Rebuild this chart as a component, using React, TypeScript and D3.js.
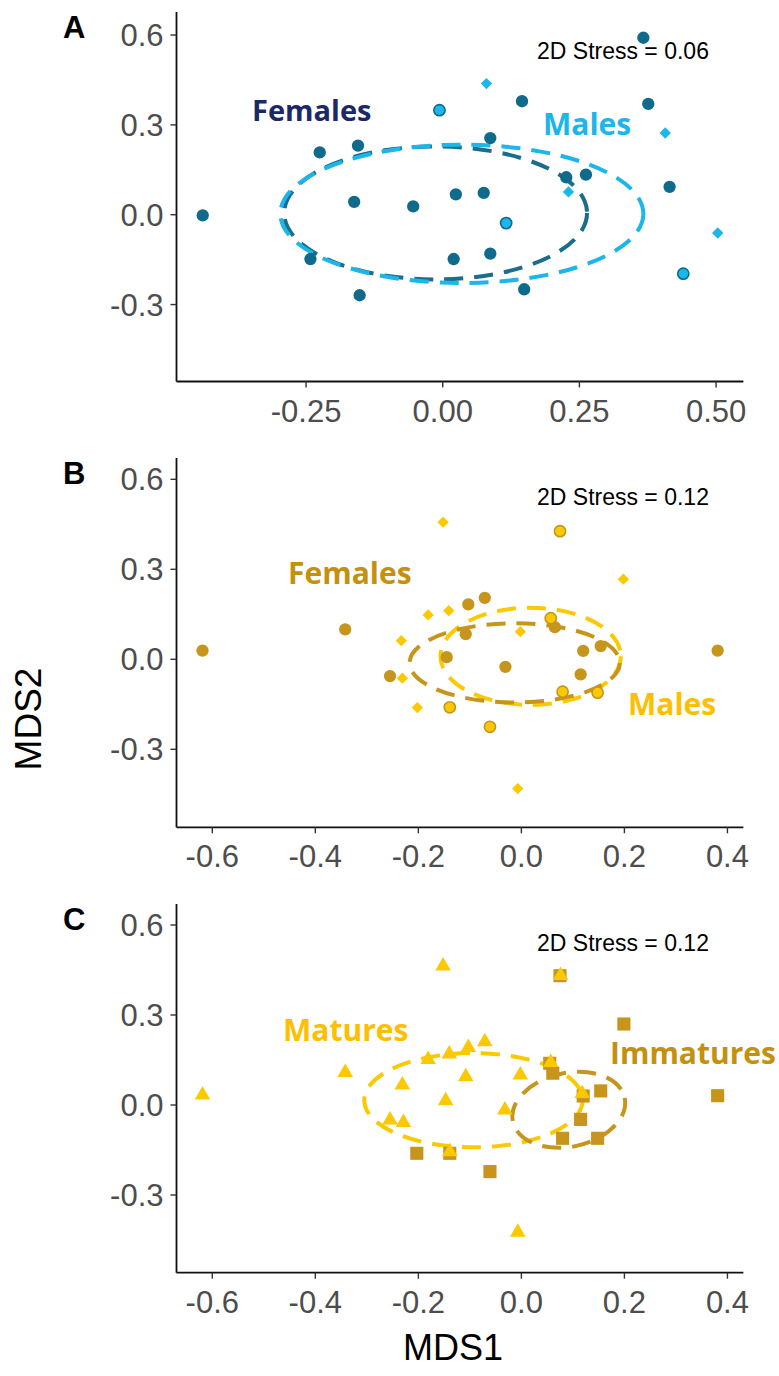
import React from 'react';
import * as d3 from 'd3';

type P = [number, number];

// ---------- Panel A data (MDS1, MDS2) ----------
const femalesA: P[] = [
  [-0.439, -0.002], [-0.225, 0.208], [-0.155, 0.231], [-0.162, 0.043], [-0.054, 0.028],
  [0.024, 0.068], [0.075, 0.073], [0.087, 0.256], [0.145, 0.379], [0.367, 0.591],
  [0.376, 0.370], [0.226, 0.125], [0.262, 0.134], [0.415, 0.093], [-0.242, -0.148],
  [0.020, -0.148], [0.087, -0.130], [-0.152, -0.269], [0.149, -0.249],
];
const malesA: P[] = [[0.080, 0.438], [0.407, 0.273], [0.230, 0.076], [0.503, -0.061]];
const malesOverlapA: P[] = [[-0.006, 0.349], [0.116, -0.028], [0.440, -0.197]];
// ellipse: [cx, cy, rx, ry, angleDeg]
const femaleEllipseA = [-0.013, 0.006, 0.277, 0.222, 0];
const maleEllipseA = [0.035, 0.003, 0.332, 0.231, 0];

// ---------- Panel B data ----------
const femalesB: P[] = [
  [-0.619, 0.029], [-0.342, 0.100], [-0.255, -0.056], [-0.145, 0.007], [-0.108, 0.084],
  [-0.103, 0.183], [-0.071, 0.205], [-0.031, -0.025], [0.065, 0.107], [0.120, 0.028],
  [0.154, 0.044], [0.115, -0.050], [0.381, 0.029],
];
const malesB: P[] = [
  [-0.152, 0.457], [0.198, 0.267], [-0.181, 0.148], [-0.141, 0.162], [-0.002, 0.092],
  [-0.233, 0.062], [-0.231, -0.063], [-0.202, -0.161], [-0.007, -0.431],
];
const malesOverlapB: P[] = [
  [0.075, 0.427], [0.057, 0.137], [0.080, -0.108], [0.148, -0.111], [-0.139, -0.160], [-0.061, -0.225],
];
const femaleEllipseB = [-0.013, -0.012, 0.204, 0.132, 0];
const maleEllipseB = [0.018, 0.010, 0.175, 0.162, 0];

// ---------- Panel C data ----------
const immaturesC: P[] = [
  [0.199, 0.270], [0.381, 0.031], [0.055, 0.139], [0.061, 0.106], [0.154, 0.047],
  [0.120, 0.030], [0.115, -0.048], [0.080, -0.111], [0.148, -0.111], [-0.203, -0.161],
  [-0.139, -0.161], [-0.061, -0.222], [0.075, 0.431],
];
const maturesC: P[] = [
  [-0.619, 0.033], [-0.152, 0.463], [0.076, 0.432], [-0.342, 0.108], [-0.231, 0.067],
  [-0.181, 0.152], [-0.140, 0.170], [-0.103, 0.192], [-0.071, 0.211], [-0.108, 0.094],
  [-0.002, 0.100], [-0.147, 0.014], [-0.032, -0.017], [-0.255, -0.050], [-0.229, -0.058],
  [-0.139, -0.156], [-0.007, -0.424], [0.057, 0.142], [0.118, 0.038],
];
const matureEllipseC = [-0.093, 0.016, 0.212, 0.157, 0];
const immatureEllipseC = [0.092, -0.016, 0.111, 0.123, 12];

// ---------- ticks ----------
const yTicks = [-0.3, 0.0, 0.3, 0.6];
const xTicksA = [-0.25, 0.0, 0.25, 0.5];
const xTicksBC = [-0.6, -0.4, -0.2, 0.0, 0.2, 0.4];
const stressLabels = ['2D Stress = 0.06', '2D Stress = 0.12', '2D Stress = 0.12'];
const panelLetters = ['A', 'B', 'C'];

// ---------- colours ----------
const C = {
  tealDark: '#0f6a8b',
  tealEll: '#1a6d8c',
  blue: '#1bb6ea',
  navy: '#1b2a66',
  gold: '#c8951c',
  yellow: '#fbc900',
  goldLbl: '#c4910f',
  yellowLbl: '#fdbf00',
  tick: '#4d4d4d',
};

const W = 779;
const H = 1376;
const AX_L = 176.5;
const AX_R = 743.4;
const TICK_FONT = 'Liberation Sans, Arial, sans-serif';
const LBL_FONT = '"Open Sans", sans-serif';

const fmt1 = (v: number) => d3.format('.1f')(v).replace('\u2212', '-');
const fmt2 = (v: number) => d3.format('.2f')(v).replace('\u2212', '-');

const circleGen = d3.symbol(d3.symbolCircle, Math.PI * 38);
const diamondGen = d3.symbol(d3.symbolSquare, 64);
const squareGen = d3.symbol(d3.symbolSquare, 172);
const triGen = d3.symbol(d3.symbolTriangle, 105);

type Scale = d3.ScaleLinear<number, number>;

function Ellipse({ e, x, y, color }: { e: number[]; x: Scale; y: Scale; color: string }) {
  const [cx, cy, rx, ry, ang] = e;
  const px = x(cx);
  const py = y(cy);
  const prx = x(cx + rx) - px;
  const pry = py - y(cy + ry);
  return (
    <ellipse
      cx={px}
      cy={py}
      rx={prx}
      ry={pry}
      transform={`rotate(${-ang} ${px} ${py})`}
      fill="none"
      stroke={color}
      strokeWidth={4}
      strokeDasharray="19 11"
    />
  );
}

function Axes({ x, y, xTicks, xf, top, bottom, letter, stress }: {
  x: Scale; y: Scale; xTicks: number[]; xf: (v: number) => string; top: number; bottom: number; letter: string; stress: string;
}) {
  return (
    <g>
      <line x1={AX_L} x2={AX_L} y1={top} y2={bottom} stroke="#111" strokeWidth={1.8} />
      <line x1={AX_L} x2={AX_R} y1={bottom} y2={bottom} stroke="#111" strokeWidth={1.8} />
      {yTicks.map((t) => (
        <g key={'y' + t}>
          <line x1={AX_L - 6} x2={AX_L} y1={y(t)} y2={y(t)} stroke="#333" strokeWidth={1.4} />
          <text x={AX_L - 13} y={y(t) + 11} textAnchor="end" fontFamily={TICK_FONT} fontSize={31} fill={C.tick}>
            {fmt1(t)}
          </text>
        </g>
      ))}
      {xTicks.map((t) => (
        <g key={'x' + t}>
          <line x1={x(t)} x2={x(t)} y1={bottom} y2={bottom + 6} stroke="#333" strokeWidth={1.4} />
          <text x={x(t)} y={bottom + 40} textAnchor="middle" fontFamily={TICK_FONT} fontSize={31} fill={C.tick}>
            {xf(t)}
          </text>
        </g>
      ))}
      <text x={63} y={top + 26} fontFamily={TICK_FONT} fontWeight="bold" fontSize={31} fill="#000">
        {letter}
      </text>
      <text x={537} y={top + 47} fontFamily={TICK_FONT} fontSize={23} fill="#000">
        {stress}
      </text>
    </g>
  );
}

export default function App() {
  // Panel A
  const topA = 12, botA = 381.5;
  const xA = d3.scaleLinear().domain([-0.487, 0.55]).range([AX_L, AX_R]);
  const yA = d3.scaleLinear().domain([-0.557, 0.677]).range([botA, topA]);
  // Panel B
  const topB = 458, botB = 827.3;
  const xB = d3.scaleLinear().domain([-0.6695, 0.431]).range([AX_L, AX_R]);
  const yB = d3.scaleLinear().domain([-0.56, 0.671]).range([botB, topB]);
  // Panel C
  const topC = 904, botC = 1272.7;
  const xC = xB;
  const yC = d3.scaleLinear().domain([-0.559, 0.67]).range([botC, topC]);

  const tr = (x: Scale, y: Scale, p: P, rot = 0) =>
    `translate(${x(p[0])},${y(p[1])})${rot ? ` rotate(${rot})` : ''}`;

  return (
    <svg width={W} height={H} style={{ position: 'absolute', left: 0, top: 0, background: '#fff' }}>
      <rect width={W} height={H} fill="#fff" />

      {/* ---------- Panel A ---------- */}
      <Axes x={xA} y={yA} xTicks={xTicksA} xf={fmt2} top={topA} bottom={botA} letter={panelLetters[0]} stress={stressLabels[0]} />
      <Ellipse e={femaleEllipseA} x={xA} y={yA} color={C.tealEll} />
      <Ellipse e={maleEllipseA} x={xA} y={yA} color={C.blue} />
      {femalesA.map((p, i) => (
        <path key={'fa' + i} d={circleGen()!} transform={tr(xA, yA, p)} fill={C.tealDark} />
      ))}
      {malesA.map((p, i) => (
        <path key={'ma' + i} d={diamondGen()!} transform={tr(xA, yA, p, 45)} fill={C.blue} />
      ))}
      {malesOverlapA.map((p, i) => (
        <circle key={'oa' + i} cx={xA(p[0])} cy={yA(p[1])} r={5.6} fill={C.blue} stroke={C.tealDark} strokeWidth={1.6} />
      ))}
      <text x={252} y={121} fontFamily={LBL_FONT} fontWeight="bold" fontSize={29} fill={C.navy}>Females</text>
      <text x={543} y={134.5} fontFamily={LBL_FONT} fontWeight="bold" fontSize={30} fill={C.blue}>Males</text>

      {/* ---------- Panel B ---------- */}
      <Axes x={xB} y={yB} xTicks={xTicksBC} xf={fmt1} top={topB} bottom={botB} letter={panelLetters[1]} stress={stressLabels[1]} />
      <Ellipse e={maleEllipseB} x={xB} y={yB} color={C.yellow} />
      <Ellipse e={femaleEllipseB} x={xB} y={yB} color={C.gold} />
      {femalesB.map((p, i) => (
        <path key={'fb' + i} d={circleGen()!} transform={tr(xB, yB, p)} fill={C.gold} />
      ))}
      {malesB.map((p, i) => (
        <path key={'mb' + i} d={diamondGen()!} transform={tr(xB, yB, p, 45)} fill={C.yellow} />
      ))}
      {malesOverlapB.map((p, i) => (
        <circle key={'ob' + i} cx={xB(p[0])} cy={yB(p[1])} r={5.6} fill={C.yellow} stroke={C.gold} strokeWidth={1.6} />
      ))}
      <text x={288} y={583.5} fontFamily={LBL_FONT} fontWeight="bold" fontSize={30} fill={C.goldLbl}>Females</text>
      <text x={628} y={715} fontFamily={LBL_FONT} fontWeight="bold" fontSize={30} fill={C.yellowLbl}>Males</text>

      {/* ---------- Panel C ---------- */}
      <Axes x={xC} y={yC} xTicks={xTicksBC} xf={fmt1} top={topC} bottom={botC} letter={panelLetters[2]} stress={stressLabels[2]} />
      <Ellipse e={matureEllipseC} x={xC} y={yC} color={C.yellow} />
      <Ellipse e={immatureEllipseC} x={xC} y={yC} color={C.gold} />
      {immaturesC.map((p, i) => (
        <path key={'ic' + i} d={squareGen()!} transform={tr(xC, yC, p)} fill={C.gold} />
      ))}
      {maturesC.map((p, i) => (
        <path key={'mc' + i} d={triGen()!} transform={tr(xC, yC, p)} fill={C.yellow} />
      ))}
      <text x={283} y={1041} fontFamily={LBL_FONT} fontWeight="bold" fontSize={30} fill={C.yellowLbl}>Matures</text>
      <text x={610} y={1063.5} fontFamily={LBL_FONT} fontWeight="bold" fontSize={30} fill={C.goldLbl}>Immatures</text>

      {/* ---------- axis titles ---------- */}
      <text transform="translate(41,719) rotate(-90)" textAnchor="middle" fontFamily={TICK_FONT} fontSize={37} fill="#000">MDS2</text>
      <text x={453} y={1360} textAnchor="middle" fontFamily={TICK_FONT} fontSize={36} fill="#000">MDS1</text>
    </svg>
  );
}
